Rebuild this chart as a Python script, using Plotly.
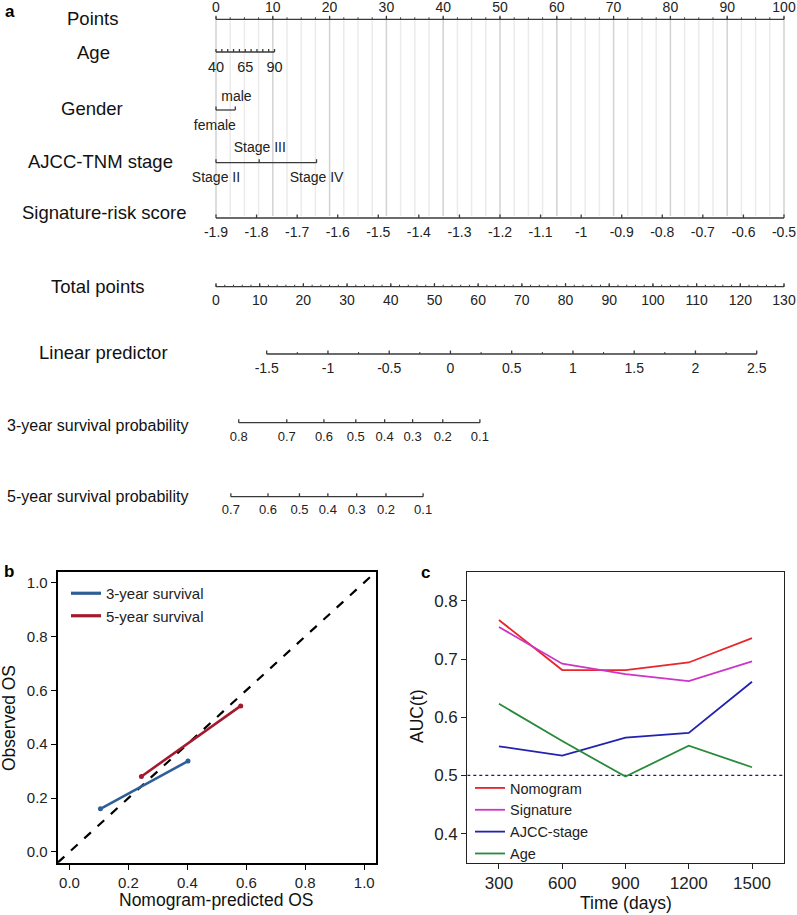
import plotly.graph_objects as go

W, H = 797, 915          # browser window size
OFF = 0                  # body margin is removed below, figure sits at the window origin
FW, FH = W - OFF, H - OFF
FONT = "Liberation Sans, Arial, sans-serif"

# ---------------- data: nomogram (panel a) ----------------
points_ticks = [0, 10, 20, 30, 40, 50, 60, 70, 80, 90, 100]
points_minor = [i * 2.5 for i in range(41)]

age_values = [40, 45, 50, 55, 60, 65, 70, 75, 80, 85, 90]
age_points = [0, 1.03, 2.06, 3.09, 4.12, 5.15, 6.18, 7.21, 8.24, 9.27, 10.3]
age_labels = [40, 65, 90]

gender_levels = ["female", "male"]
gender_points = [0, 3.4]

stage_levels = ["Stage II", "Stage III", "Stage IV"]
stage_points = [0, 7.6, 17.7]

sig_values = [-1.9, -1.8, -1.7, -1.6, -1.5, -1.4, -1.3, -1.2, -1.1, -1.0, -0.9, -0.8, -0.7, -0.6, -0.5]
sig_labels = ["-1.9", "-1.8", "-1.7", "-1.6", "-1.5", "-1.4", "-1.3", "-1.2", "-1.1", "-1",
              "-0.9", "-0.8", "-0.7", "-0.6", "-0.5"]
sig_points = [0, 7.14, 14.29, 21.43, 28.57, 35.71, 42.86, 50, 57.14, 64.29, 71.43, 78.57, 85.71, 92.86, 100]

total_ticks = [0, 10, 20, 30, 40, 50, 60, 70, 80, 90, 100, 110, 120, 130]
total_minor = [i * 2 for i in range(66)]

lp_ticks = [-1.5, -1, -0.5, 0, 0.5, 1, 1.5, 2, 2.5]
lp_labels = ["-1.5", "-1", "-0.5", "0", "0.5", "1", "1.5", "2", "2.5"]
lp_minor = [-1.25, -0.75, -0.25, 0.25, 0.75, 1.25, 1.75, 2.25]

surv3_labels = ["0.8", "0.7", "0.6", "0.5", "0.4", "0.3", "0.2", "0.1"]
surv3_total = [5.2, 16.2, 24.7, 32.0, 38.6, 45.0, 51.9, 60.4]

surv5_labels = ["0.7", "0.6", "0.5", "0.4", "0.3", "0.2", "0.1"]
surv5_total = [3.4, 11.9, 19.1, 25.6, 32.2, 38.9, 47.4]

# ---------------- data: calibration (panel b) ----------------
cal3_pred = [0.105, 0.402]
cal3_obs = [0.160, 0.337]
cal5_pred = [0.244, 0.581]
cal5_obs = [0.280, 0.542]

# ---------------- data: time-dependent AUC (panel c) ----------------
days = [300, 600, 900, 1200, 1500]
auc_nomogram = [0.767, 0.681, 0.681, 0.694, 0.736]
auc_signature = [0.755, 0.692, 0.674, 0.662, 0.696]
auc_ajcc = [0.550, 0.534, 0.565, 0.573, 0.661]
auc_age = [0.623, 0.559, 0.498, 0.551, 0.514]

# ---------------- layout constants (window pixel rows of panel a) ----------------
ROW = {"points": 19.3, "age": 52, "gender": 110, "stage": 162.7, "sig": 218,
       "total": 286.7, "lp": 354, "s3": 422.7, "s5": 496.7}
AX = "#3a3a3a"


def pxx(p):
    return (p - OFF) / FW


def pxy(p):
    return 1 - (p - OFF) / FH


fig = go.Figure()


def seg_trace(xs_pairs, ys_pairs, xaxis, color=AX, width=1.3):
    xs, ys = [], []
    for (x0, x1), (y0, y1) in zip(xs_pairs, ys_pairs):
        xs += [x0, x1, None]
        ys += [y0, y1, None]
    fig.add_trace(go.Scatter(x=xs, y=ys, xaxis=xaxis, yaxis="y", mode="lines",
                             line=dict(color=color, width=width), hoverinfo="skip",
                             showlegend=False))


def nomo_axis(xaxis, vals, y, up=3.5, minor=None, minor_up=2):
    lo, hi = min(vals), max(vals)
    seg_trace([(lo, hi)], [(y, y)], xaxis)
    seg_trace([(v, v) for v in vals], [(y, y - up) for _ in vals], xaxis)
    if minor:
        seg_trace([(v, v) for v in minor], [(y, y - minor_up) for _ in minor], xaxis, width=1)


def text_trace(xaxis, xs, y, labels, size=14):
    fig.add_trace(go.Scatter(x=xs, y=[y] * len(xs), xaxis=xaxis, yaxis="y", mode="text",
                             text=[str(t) for t in labels], textposition="middle center",
                             textfont=dict(family=FONT, size=size, color="#222"),
                             hoverinfo="skip", showlegend=False, cliponaxis=False))


# grid lines of the points scale
gmin = [v for v in points_minor if v % 10 != 0]
seg_trace([(v, v) for v in gmin], [(ROW["points"], ROW["sig"] - 2) for _ in gmin], "x", color="#ebebeb", width=1.5)
seg_trace([(v, v) for v in points_ticks], [(ROW["points"], ROW["sig"] - 2) for _ in points_ticks], "x", color="#d2d2d2", width=1.5)

# Points
nomo_axis("x", points_ticks, ROW["points"], up=3.5, minor=points_minor, minor_up=2)
text_trace("x", points_ticks, ROW["points"] - 10.8, points_ticks, 14)
# Age
nomo_axis("x", age_points, ROW["age"], up=3)
text_trace("x", [age_points[age_values.index(a)] for a in age_labels], ROW["age"] + 16, age_labels, 14.5)
# Gender
nomo_axis("x", gender_points, ROW["gender"], up=3.5)
text_trace("x", [gender_points[0] - 0.2], ROW["gender"] + 16, [gender_levels[0]], 14)
text_trace("x", [gender_points[1] + 0.2], ROW["gender"] - 13, [gender_levels[1]], 14)
# AJCC stage
nomo_axis("x", stage_points, ROW["stage"], up=3.5)
text_trace("x", [stage_points[0], stage_points[2]], ROW["stage"] + 16, [stage_levels[0], stage_levels[2]], 14)
text_trace("x", [stage_points[1] + 0.1], ROW["stage"] - 14, [stage_levels[1]], 14)
# Signature-risk score
nomo_axis("x", sig_points, ROW["sig"], up=3.5)
text_trace("x", sig_points, ROW["sig"] + 15, sig_labels, 14)
# Total points
nomo_axis("x4", total_ticks, ROW["total"], up=3.5, minor=total_minor, minor_up=2)
text_trace("x4", total_ticks, ROW["total"] + 15, total_ticks, 14)
# Linear predictor
nomo_axis("x5", lp_ticks, ROW["lp"], up=3.5, minor=lp_minor, minor_up=2)
text_trace("x5", lp_ticks, ROW["lp"] + 15, lp_labels, 14)
# 3-year survival
nomo_axis("x4", surv3_total, ROW["s3"], up=3.5)
text_trace("x4", surv3_total, ROW["s3"] + 15, surv3_labels, 13)
# 5-year survival
nomo_axis("x4", surv5_total, ROW["s5"], up=3.5)
text_trace("x4", surv5_total, ROW["s5"] + 14, surv5_labels, 13)

row_labels = [
    ("Points", 92, ROW["points"] - 1, 18.5),
    ("Age", 93, 52, 18.5),
    ("Gender", 92, 108, 18.5),
    ("AJCC-TNM stage", 100, 161, 18.5),
    ("Signature-risk score", 104, 212, 18.5),
    ("Total points", 98, 286, 18.5),
    ("Linear predictor", 103, 352, 18.5),
    ("3-year survival probability", 97.5, 425, 16),
    ("5-year survival probability", 97.5, 496, 16),
]
annotations = []
for txt, cx, cy, fs in row_labels:
    annotations.append(dict(text=txt, x=pxx(cx), y=cy, xref="paper", yref="y", showarrow=False,
                            xanchor="center", yanchor="middle",
                            font=dict(family=FONT, size=fs, color="#111")))

# ---------------- panel b ----------------
C3, C5 = "#2f5f97", "#a31a2e"
fig.add_trace(go.Scatter(x=[-0.04, 1.04], y=[-0.04, 1.04], xaxis="x2", yaxis="y2", mode="lines",
                         line=dict(color="black", width=2.2, dash="dash"), showlegend=False,
                         hoverinfo="skip"))
fig.add_trace(go.Scatter(x=cal3_pred, y=cal3_obs, xaxis="x2", yaxis="y2", mode="lines+markers",
                         name="3-year survival", line=dict(color=C3, width=2.6),
                         marker=dict(size=5, color=C3), showlegend=False))
fig.add_trace(go.Scatter(x=cal5_pred, y=cal5_obs, xaxis="x2", yaxis="y2", mode="lines+markers",
                         name="5-year survival", line=dict(color=C5, width=2.6),
                         marker=dict(size=5, color=C5), showlegend=False))
for nm, col in [("3-year survival", C3), ("5-year survival", C5)]:
    fig.add_trace(go.Scatter(x=[None], y=[None], xaxis="x2", yaxis="y2", mode="lines", name=nm,
                             line=dict(color=col, width=3.2), legend="legend"))

# ---------------- panel c ----------------
fig.add_trace(go.Scatter(x=[150, 1653], y=[0.5, 0.5], xaxis="x3", yaxis="y3", mode="lines",
                         line=dict(color="#1a1a7a", width=1.2, dash="dot"), showlegend=False,
                         hoverinfo="skip"))
for name, vals, col in [("Nomogram", auc_nomogram, "#e8262b"),
                        ("Signature", auc_signature, "#cc35c8"),
                        ("AJCC-stage", auc_ajcc, "#2222b0"),
                        ("Age", auc_age, "#2a8a3c")]:
    fig.add_trace(go.Scatter(x=days, y=vals, xaxis="x3", yaxis="y3", mode="lines", name=name,
                             line=dict(color=col, width=1.8), legend="legend2"))

# panel letters and axis titles
for txt, cx, cy in [("a", 10, 12), ("b", 9, 571), ("c", 425, 572)]:
    annotations.append(dict(text="<b>%s</b>" % txt, x=pxx(cx), y=pxy(cy), xref="paper", yref="paper",
                            showarrow=False, xanchor="center", yanchor="middle",
                            font=dict(family=FONT, size=17, color="black")))
for txt, cx, cy, ang in [("Nomogram-predicted OS", 216, 900, 0), ("Observed OS", 9, 718, -90),
                         ("Time (days)", 626, 903, 0), ("AUC(t)", 417, 717, -90)]:
    annotations.append(dict(text=txt, x=pxx(cx), y=pxy(cy), xref="paper", yref="paper",
                            showarrow=False, xanchor="center", yanchor="middle", textangle=ang,
                            font=dict(family=FONT, size=17.5, color="#111")))

ydom = [pxy(862.7), pxy(571.7)]
hidden = dict(visible=False, showgrid=False, zeroline=False, fixedrange=True)

# axis ranges so the nomogram scales land on the measured window pixels
pts_per_px = 100 / (784 - 216)
tot_per_px = 130 / (784 - 216)
lp_px_per_unit = (756.7 - 266.7) / 4

fig.update_layout(
    width=FW, height=FH, margin=dict(l=0, r=0, t=0, b=0),
    paper_bgcolor="white", plot_bgcolor="rgba(0,0,0,0)",
    font=dict(family=FONT, color="#111"),
    annotations=annotations,
    xaxis=dict(domain=[0, 1], range=[(OFF - 216) * pts_per_px, 100 + (W - 784) * pts_per_px],
               anchor="y", **hidden),
    xaxis4=dict(domain=[0, 1], range=[(OFF - 216) * tot_per_px, 130 + (W - 784) * tot_per_px],
                anchor="y", overlaying="x", **hidden),
    xaxis5=dict(domain=[0, 1], range=[-1.5 - (266.7 - OFF) / lp_px_per_unit, 2.5 + (W - 756.7) / lp_px_per_unit],
                anchor="y", overlaying="x", **hidden),
    yaxis=dict(domain=[0, 1], range=[H, OFF], anchor="x", **hidden),
    xaxis2=dict(domain=[pxx(57.7), pxx(376)], range=[-0.04, 1.04], anchor="y2",
                showline=True, mirror=True, linewidth=2, linecolor="black",
                ticks="outside", ticklen=5, tickcolor="black", tickwidth=1,
                tickvals=[0, 0.2, 0.4, 0.6, 0.8, 1.0], tickformat=".1f",
                tickfont=dict(family=FONT, size=15, color="#222"), showgrid=False, zeroline=False),
    yaxis2=dict(domain=ydom, range=[-0.04, 1.04], anchor="x2",
                showline=True, mirror=True, linewidth=2, linecolor="black",
                ticks="outside", ticklen=5, tickcolor="black", tickwidth=1,
                tickvals=[0, 0.2, 0.4, 0.6, 0.8, 1.0], tickformat=".1f",
                tickfont=dict(family=FONT, size=15, color="#222"), showgrid=False, zeroline=False),
    xaxis3=dict(domain=[pxx(467.3), pxx(784.3)], range=[150, 1653], anchor="y3",
                showline=True, mirror=True, linewidth=1.2, linecolor="#222",
                ticks="outside", ticklen=5, tickcolor="#222", tickwidth=1,
                tickvals=days, tickfont=dict(family=FONT, size=17, color="#222"),
                showgrid=False, zeroline=False),
    yaxis3=dict(domain=ydom, range=[0.35, 0.85], anchor="x3",
                showline=True, mirror=True, linewidth=1.2, linecolor="#222",
                ticks="outside", ticklen=5, tickcolor="#222", tickwidth=1,
                tickvals=[0.4, 0.5, 0.6, 0.7, 0.8], tickformat=".1f",
                tickfont=dict(family=FONT, size=17, color="#222"), showgrid=False, zeroline=False),
    legend=dict(x=pxx(66), y=pxy(577), xanchor="left", yanchor="top", bgcolor="rgba(0,0,0,0)",
                font=dict(family=FONT, size=15, color="#222"), itemwidth=30, tracegroupgap=0),
    legend2=dict(x=pxx(470), y=pxy(772), xanchor="left", yanchor="top", bgcolor="rgba(0,0,0,0)",
                 font=dict(family=FONT, size=14.5, color="#222"), itemwidth=30, tracegroupgap=0),
    showlegend=True,
)

fig.write_html("out.html", config={"displayModeBar": False},
               post_script="document.body.style.margin='0px'; document.body.style.padding='0px';")
